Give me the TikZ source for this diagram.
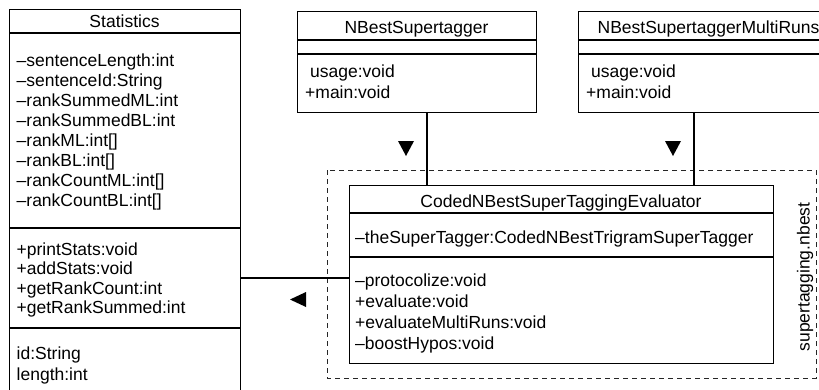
\documentclass[tikz,border=0pt]{standalone}
\usepackage{fontspec}
\setmainfont{Liberation Sans}
\begin{document}
\begin{tikzpicture}[x=1pt,y=-1pt,
  umlbox/.style={draw, line width=1.1pt, rectangle, inner sep=0pt, anchor=north west},
  divider/.style={line width=1.1pt},
  member/.style={anchor=base west, inner sep=0pt},
  title/.style={anchor=base, inner sep=0pt},
  conn/.style={line width=1.1pt},
  tip/.style={fill=black},
  pkg/.style={draw=black!85, line width=0.9pt, dash pattern=on 5pt off 4pt},
  every node/.style={font=\fontsize{17.5}{20}\selectfont}
]
\useasboundingbox (0,0) rectangle (819,389);
\clip (0,0) rectangle (819,389);

% package frame
\draw[pkg] (327,170) rectangle (816,378);
\node[rotate=90, inner sep=0pt] (pkglabel) at (805,277) {supertagging.nbest};

% Statistics
\node[umlbox, minimum width=231pt, minimum height=400pt] (stat) at (9,9) {};
\draw[divider] (9,33) -- (240,33);
\draw[divider] (9,228) -- (240,228);
\draw[divider] (9,328) -- (240,328);
\node[title] (statT) at (124.5,27) {Statistics};
\node[member] (s1) at (16.5,66.5) {\textendash sentenceLength:int};
\node[member] (s2) at (16.5,86.5) {\textendash sentenceId:String};
\node[member] (s3) at (16.5,106.5) {\textendash rankSummedML:int};
\node[member] (s4) at (16.5,126.5) {\textendash rankSummedBL:int};
\node[member] (s5) at (16.5,146.5) {\textendash rankML:int[]};
\node[member] (s6) at (16.5,166.5) {\textendash rankBL:int[]};
\node[member] (s7) at (16.5,186.5) {\textendash rankCountML:int[]};
\node[member] (s8) at (16.5,206.5) {\textendash rankCountBL:int[]};
\node[member] (m1) at (16.5,255) {+printStats:void};
\node[member] (m2) at (16.5,274.5) {+addStats:void};
\node[member] (m3) at (16.5,294) {+getRankCount:int};
\node[member] (m4) at (16.5,313.5) {+getRankSummed:int};
\node[member] (e1) at (16.5,359) {id:String};
\node[member] (e2) at (16.5,380) {length:int};

% NBestSupertagger
\node[umlbox, minimum width=239pt, minimum height=101pt] (nb) at (297,11) {};
\draw[divider] (297,40) -- (536,40);
\draw[divider] (297,54) -- (536,54);
\node[title] (nbT) at (416.5,33) {NBestSupertagger};
\node[member] (nb1) at (310,77) {usage:void};
\node[member] (nb2) at (305,98) {+main:void};

% NBestSupertaggerMultiRuns
\node[umlbox, minimum width=261pt, minimum height=101pt] (mr) at (578,11) {};
\draw[divider] (578,40) -- (839,40);
\draw[divider] (578,54) -- (839,54);
\node[title] (mrT) at (708.5,33) {NBestSupertaggerMultiRuns};
\node[member] (mr1) at (591,77) {usage:void};
\node[member] (mr2) at (586,98) {+main:void};

% CodedNBestSuperTaggingEvaluator
\node[umlbox, minimum width=424pt, minimum height=178pt] (cd) at (349,185) {};
\draw[divider] (349,213) -- (773,213);
\draw[divider] (349,257) -- (773,257);
\node[title] (cdT) at (561,207) {CodedNBestSuperTaggingEvaluator};
\node[member] (c1) at (355,243) {\textendash theSuperTagger:CodedNBestTrigramSuperTagger};
\node[member] (c2) at (355,286) {\textendash protocolize:void};
\node[member] (c3) at (355,307) {+evaluate:void};
\node[member] (c4) at (355,328) {+evaluateMultiRuns:void};
\node[member] (c5) at (355,349) {\textendash boostHypos:void};

% connectors
\coordinate (nbx) at (427,0);
\coordinate (mrx) at (694,0);
\coordinate (sty) at (0,278);
\draw[conn] (nb.south -| nbx) -- (cd.north -| nbx);
\draw[conn] (mr.south -| mrx) -- (cd.north -| mrx);
\draw[conn] (stat.east |- sty) -- (cd.west |- sty);

% direction markers
\fill[tip] (398,141) -- (414,141) -- (406,156) -- cycle;
\fill[tip] (665,141) -- (681,141) -- (673,156) -- cycle;
\fill[tip] (290,299.5) -- (306,292) -- (306,307) -- cycle;
\end{tikzpicture}
\end{document}
